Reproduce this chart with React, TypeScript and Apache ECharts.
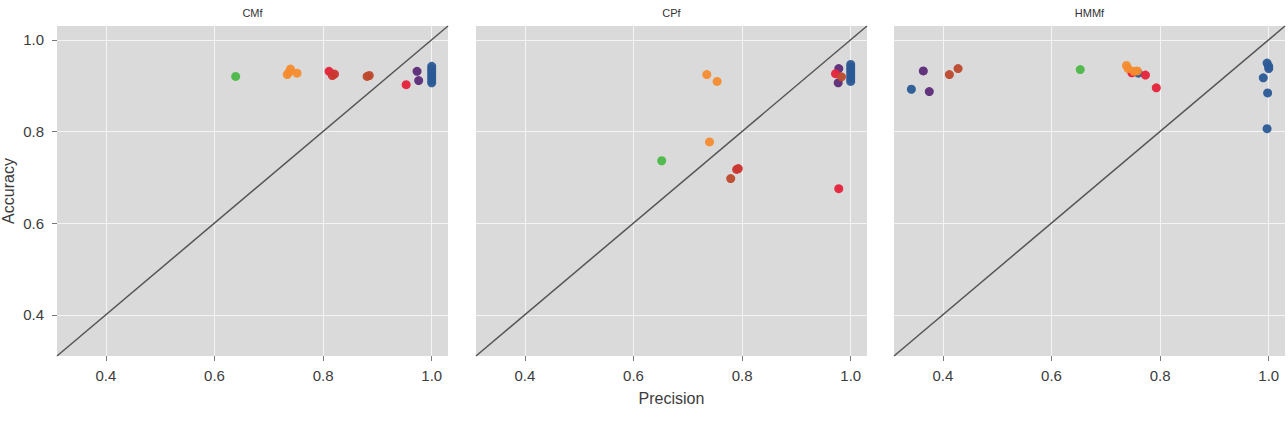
import React, { useEffect, useRef } from "react";
import * as echarts from "echarts";

// Facet titles, axis range and tick positions
const panelTitles = ["CMf", "CPf", "HMMf"];
const AXIS_MIN = 0.31;
const AXIS_MAX = 1.03;
const tickValues = [0.4, 0.6, 0.8, 1.0];
const diagonal = [AXIS_MIN, AXIS_MAX];

// Point groups and their colours
const groupNames = ["blue", "purple", "red", "crimson", "brick", "orange", "green"];
const groupColors: Record<string, string> = {
  blue: "#2b5a96",
  purple: "#5c2b78",
  red: "#e6223a",
  crimson: "#cc3530",
  brick: "#bd492c",
  orange: "#f58c2f",
  green: "#4cb849",
};

// CMf panel: [precision, accuracy]
const cmfBlue = [[1.0, 0.906], [1.0, 0.912], [1.0, 0.918], [1.0, 0.924], [1.0, 0.93], [1.0, 0.936], [1.0, 0.942]];
const cmfPurple = [[0.973, 0.931], [0.976, 0.911]];
const cmfRed = [[0.811, 0.931], [0.953, 0.902]];
const cmfCrimson = [[0.817, 0.922], [0.821, 0.925]];
const cmfBrick = [[0.881, 0.92], [0.885, 0.922]];
const cmfOrange = [[0.734, 0.924], [0.74, 0.936], [0.752, 0.927], [0.737, 0.929]];
const cmfGreen = [[0.639, 0.92]];

// CPf panel
const cpfBlue = [[1.0, 0.909], [1.0, 0.915], [1.0, 0.921], [1.0, 0.928], [1.0, 0.934], [1.0, 0.94], [1.0, 0.946]];
const cpfPurple = [[0.978, 0.937], [0.977, 0.906]];
const cpfRed = [[0.972, 0.926], [0.978, 0.675]];
const cpfCrimson = [[0.79, 0.717], [0.793, 0.719]];
const cpfBrick = [[0.983, 0.919], [0.779, 0.697]];
const cpfOrange = [[0.735, 0.924], [0.754, 0.909], [0.74, 0.777]];
const cpfGreen = [[0.652, 0.736]];

// HMMf panel
const hmmfBlue = [[0.342, 0.892], [0.76, 0.927], [0.997, 0.949], [1.0, 0.937], [1.0, 0.942], [0.99, 0.917], [0.998, 0.884], [0.997, 0.806]];
const hmmfPurple = [[0.364, 0.932], [0.375, 0.887]];
const hmmfRed = [[0.748, 0.928], [0.773, 0.923], [0.793, 0.895]];
const hmmfCrimson: number[][] = [];
const hmmfBrick = [[0.412, 0.924], [0.428, 0.937]];
const hmmfOrange = [[0.738, 0.944], [0.741, 0.937], [0.758, 0.932], [0.752, 0.931]];
const hmmfGreen = [[0.653, 0.935]];

const panelData: Record<string, number[][]>[] = [
  { blue: cmfBlue, purple: cmfPurple, red: cmfRed, crimson: cmfCrimson, brick: cmfBrick, orange: cmfOrange, green: cmfGreen },
  { blue: cpfBlue, purple: cpfPurple, red: cpfRed, crimson: cpfCrimson, brick: cpfBrick, orange: cpfOrange, green: cpfGreen },
  { blue: hmmfBlue, purple: hmmfPurple, red: hmmfRed, crimson: hmmfCrimson, brick: hmmfBrick, orange: hmmfOrange, green: hmmfGreen },
];

const W = 1288;
const H = 421;
const gridLefts = [57, 476, 894];
const gridWidth = 391;
const gridTop = 26;
const gridHeight = 330;
const FONT = "'Liberation Sans', Arial, Helvetica, sans-serif";
const LABEL_COLOR = "#3c3c3c";

export default function App() {
  const ref = useRef<HTMLDivElement>(null);

  useEffect(() => {
    if (!ref.current) return;
    const chart = echarts.init(ref.current, undefined, { renderer: "svg" });

    const grids = gridLefts.map((left) => ({
      left,
      top: gridTop,
      width: gridWidth,
      height: gridHeight,
      show: true,
      backgroundColor: "#dadada",
      borderWidth: 0,
      containLabel: false,
    }));

    const xAxes = gridLefts.map((_, i) => ({
      type: "value",
      gridIndex: i,
      min: AXIS_MIN,
      max: AXIS_MAX,
      splitNumber: 4,
      axisLine: { show: false },
      axisTick: { show: true, length: 5, customValues: tickValues, lineStyle: { color: "#777", width: 1 } },
      axisLabel: {
        show: true,
        customValues: tickValues,
        margin: 12,
        color: LABEL_COLOR,
        fontSize: 15,
        fontFamily: FONT,
        formatter: (v: number) => v.toFixed(1),
      },
      splitLine: { show: true, lineStyle: { color: "#f4f4f4", width: 1 } },
    }));

    const yAxes = gridLefts.map((_, i) => ({
      type: "value",
      gridIndex: i,
      min: AXIS_MIN,
      max: AXIS_MAX,
      splitNumber: 4,
      axisLine: { show: false },
      axisTick: { show: i === 0, length: 5, customValues: tickValues, lineStyle: { color: "#777", width: 1 } },
      axisLabel: {
        show: i === 0,
        customValues: tickValues,
        margin: 13,
        color: LABEL_COLOR,
        fontSize: 15,
        fontFamily: FONT,
        formatter: (v: number) => v.toFixed(1),
      },
      splitLine: { show: true, lineStyle: { color: "#f4f4f4", width: 1 } },
    }));

    const series: any[] = [];
    panelData.forEach((groups, i) => {
      series.push({
        type: "line",
        xAxisIndex: i,
        yAxisIndex: i,
        data: [[diagonal[0], diagonal[0]], [diagonal[1], diagonal[1]]],
        showSymbol: false,
        silent: true,
        lineStyle: { color: "#555", width: 1.5 },
        z: 2,
      });
      groupNames.forEach((g) => {
        series.push({
          type: "scatter",
          name: g,
          xAxisIndex: i,
          yAxisIndex: i,
          data: groups[g],
          symbolSize: 9,
          itemStyle: { color: groupColors[g], opacity: 0.95 },
          z: 3,
        });
      });
    });

    const graphics: any[] = panelTitles.map((t, i) => ({
      type: "text",
      x: gridLefts[i] + gridWidth / 2,
      y: 13,
      style: {
        text: t,
        fill: "#333",
        fontSize: 11,
        fontFamily: FONT,
        align: "center",
        verticalAlign: "middle",
      },
    }));
    graphics.push({
      type: "text",
      x: gridLefts[1] + gridWidth / 2,
      y: 398,
      style: {
        text: "Precision",
        fill: LABEL_COLOR,
        fontSize: 16,
        fontFamily: FONT,
        align: "center",
        verticalAlign: "middle",
      },
    });
    graphics.push({
      type: "text",
      x: 8,
      y: 191,
      rotation: Math.PI / 2,
      style: {
        text: "Accuracy",
        fill: LABEL_COLOR,
        fontSize: 16,
        fontFamily: FONT,
        align: "center",
        verticalAlign: "middle",
      },
    });

    chart.setOption({
      animation: false,
      backgroundColor: "#ffffff",
      grid: grids,
      xAxis: xAxes,
      yAxis: yAxes,
      series,
      graphic: graphics,
    });

    return () => chart.dispose();
  }, []);

  return (
    <div
      ref={ref}
      style={{ position: "fixed", left: 0, top: 0, width: W, height: H }}
    />
  );
}
